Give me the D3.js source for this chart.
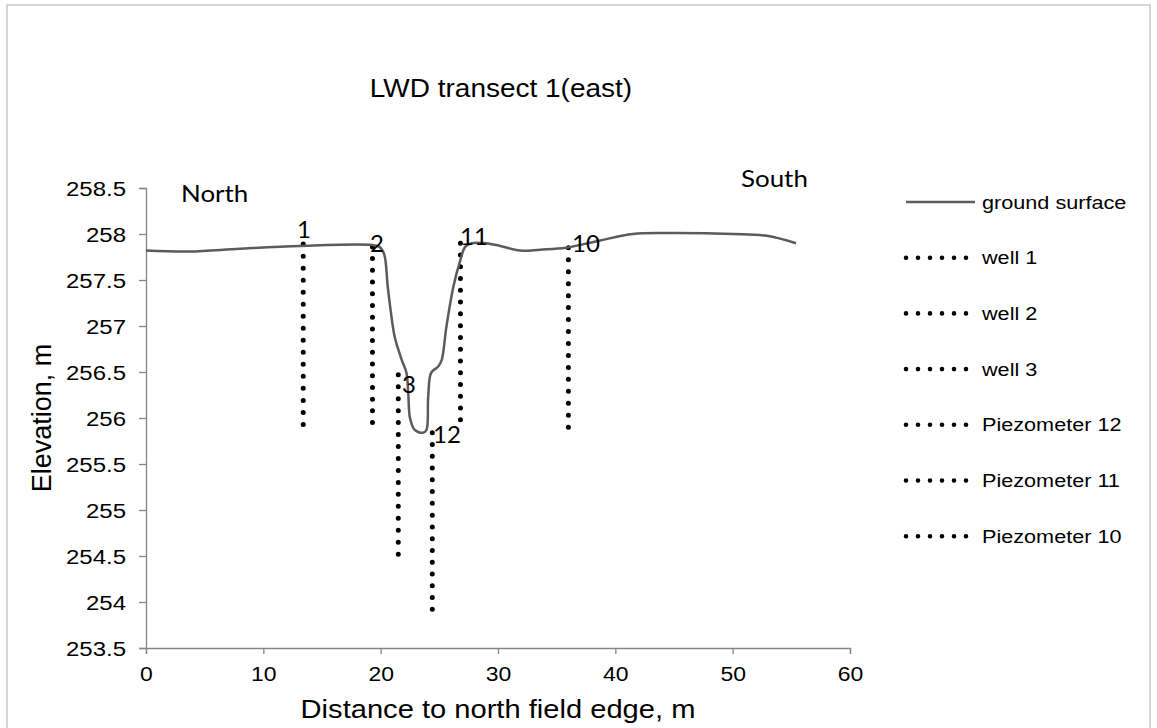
<!DOCTYPE html>
<html>
<head>
<meta charset="utf-8">
<script src="https://cdn.jsdelivr.net/npm/d3@7"></script>
<style>
  html, body { margin: 0; padding: 0; background: #fff; }
  svg { display: block; }
</style>
</head>
<body>
<svg id="chart" width="1157" height="728"></svg>
<script>
// ---------------- data ----------------
const groundDist = [0, 3.75, 8, 13.1, 19.3, 19.9, 20.3, 20.6, 20.85, 21.2, 21.8, 22.2, 22.35, 22.5, 22.9, 23.6, 23.9, 24.05, 24.3, 24.9, 25.2, 25.6, 26.2, 26.8, 27.2, 27.75, 29.0, 30.2, 31.9, 33.6, 35.8, 38.7, 41.5, 44.4, 50.05, 52.9, 55.4];
const groundElev = [257.82, 257.81, 257.84, 257.87, 257.88, 257.86, 257.78, 257.43, 257.17, 256.88, 256.63, 256.49, 256.27, 256.0, 255.87, 255.84, 255.87, 256.23, 256.49, 256.56, 256.63, 256.99, 257.43, 257.72, 257.86, 257.9, 257.9, 257.87, 257.82, 257.83, 257.85, 257.93, 258.0, 258.01, 258.0, 257.98, 257.9];

const wellNames  = ["well 1", "well 2", "well 3", "Piezometer 12", "Piezometer 11", "Piezometer 10"];
const wellDist   = [13.4, 19.3, 21.5, 24.4, 26.8, 36.0];
const wellTop    = [257.89, 257.86, 256.47, 255.84, 257.9, 257.85];
const wellBottom = [255.93, 255.95, 254.52, 253.92, 255.98, 255.9];
const wellLabels = ["1", "2", "3", "12", "11", "10"];
const labelDist  = [12.87, 19.09, 21.82, 24.46, 26.76, 36.31];
const labelElev  = [257.96, 257.80, 256.27, 255.73, 257.88, 257.80];

const xTicks = [0, 10, 20, 30, 40, 50, 60];
const yTicks = [253.5, 254, 254.5, 255, 255.5, 256, 256.5, 257, 257.5, 258, 258.5];
const yTickLabels = ["253.5", "254", "254.5", "255", "255.5", "256", "256.5", "257", "257.5", "258", "258.5"];

const titleText = "LWD transect 1(east)";
const xTitle = "Distance to north field edge, m";
const yTitle = "Elevation, m";
const groundName = "ground surface";

// ---------------- layout ----------------
const SX = 1.12;
const ARIAL = "'Liberation Sans', Arial, sans-serif";
const CAL = "Lato, 'Noto Sans', sans-serif";
const svg = d3.select("#chart");

const x = d3.scaleLinear().domain([0, 60]).range([146, 850]);
const y = d3.scaleLinear().domain([253.5, 258.5]).range([648, 188]);

// outer frame
svg.append("rect").attr("x", 7).attr("y", 5).attr("width", 1143).attr("height", 760)
  .attr("fill", "#fff").attr("stroke", "#c8c8c8").attr("stroke-width", 1.5);

function txt(parent, px, py, s, size, anchor, family, stretch) {
  return parent.append("text")
    .attr("transform", `translate(${px},${py}) scale(${stretch},1)`)
    .attr("text-anchor", anchor)
    .style("font-size", size + "px")
    .style("font-family", family)
    .attr("fill", "#000")
    .text(s);
}

// title
txt(svg, 501, 97, titleText, 25, "middle", ARIAL, SX);

// axes
const gx = svg.append("g").attr("transform", `translate(0,${y(253.5)})`)
  .call(d3.axisBottom(x).tickValues(xTicks).tickSize(6).tickFormat(d3.format("d")));
const gy = svg.append("g").attr("transform", `translate(${x(0)},0)`)
  .call(d3.axisLeft(y).tickValues(yTicks).tickSize(7).tickFormat((d, i) => yTickLabels[i]));

[gx, gy].forEach(g => {
  g.select(".domain").attr("stroke", "#868686").attr("stroke-width", 1.3);
  g.selectAll(".tick line").attr("stroke", "#868686").attr("stroke-width", 1.3);
  g.selectAll("text").style("font-family", ARIAL).style("font-size", "20.5px").attr("fill", "#000");
});
gx.selectAll(".tick text").attr("y", 33).attr("dy", null).attr("transform", `scale(${SX},1)`);
gy.selectAll(".tick text").attr("x", -20 / 1.17).attr("dy", "0.35em").attr("transform", `scale(1.17,1)`);

// axis titles
txt(svg, 498, 718, xTitle, 26, "middle", ARIAL, SX);
svg.append("text")
  .attr("transform", `translate(51,418) rotate(-90)`)
  .attr("text-anchor", "middle")
  .style("font-size", "27px").style("font-family", ARIAL)
  .text(yTitle);

// North / South
txt(svg, 181, 202, "North", 24, "start", CAL, 1.08);
txt(svg, 741, 187, "South", 24, "start", CAL, 1.08);

// wells (dotted) - spacing adjusted so that both ends carry a dot
const plot = svg.append("g");
plot.selectAll("line.well").data(wellNames).join("line")
  .attr("class", "well")
  .attr("x1", (d, i) => x(wellDist[i])).attr("x2", (d, i) => x(wellDist[i]))
  .attr("y1", (d, i) => y(wellTop[i])).attr("y2", (d, i) => y(wellBottom[i]))
  .attr("stroke", "#000").attr("stroke-width", 5)
  .attr("stroke-linecap", "round")
  .attr("stroke-dasharray", (d, i) => {
    const len = y(wellBottom[i]) - y(wellTop[i]);
    const n = Math.max(1, Math.round(len / 11.8));
    return `0 ${len / n - 0.001}`;
  });

// ground surface
const groundData = groundDist.map((d, i) => ({ d, v: groundElev[i] }));
plot.append("path").datum(groundData)
  .attr("fill", "none").attr("stroke", "#5b5b5b").attr("stroke-width", 2.5)
  .attr("d", d3.line().x(p => x(p.d)).y(p => y(p.v)).curve(d3.curveCatmullRom.alpha(0.5)));

// well labels
wellLabels.forEach((s, i) => {
  txt(plot, x(labelDist[i]), y(labelElev[i]), s, 24, "start", CAL, 1);
});

// legend
const lg = svg.append("g");
const legY0 = 202, legStep = 55.7;
lg.append("line").attr("x1", 906).attr("x2", 975).attr("y1", legY0).attr("y2", legY0)
  .attr("stroke", "#5b5b5b").attr("stroke-width", 2.5);
txt(lg, 982, legY0 + 6.5, groundName, 18.5, "start", ARIAL, 1.17);
wellNames.forEach((n, i) => {
  const yy = legY0 + legStep * (i + 1);
  lg.append("line").attr("x1", 906).attr("x2", 967).attr("y1", yy).attr("y2", yy)
    .attr("stroke", "#000").attr("stroke-width", 4.6).attr("stroke-linecap", "round")
    .attr("stroke-dasharray", "0 12");
  txt(lg, 982, yy + 6.5, n, 18.5, "start", ARIAL, 1.17);
});
</script>
</body>
</html>
